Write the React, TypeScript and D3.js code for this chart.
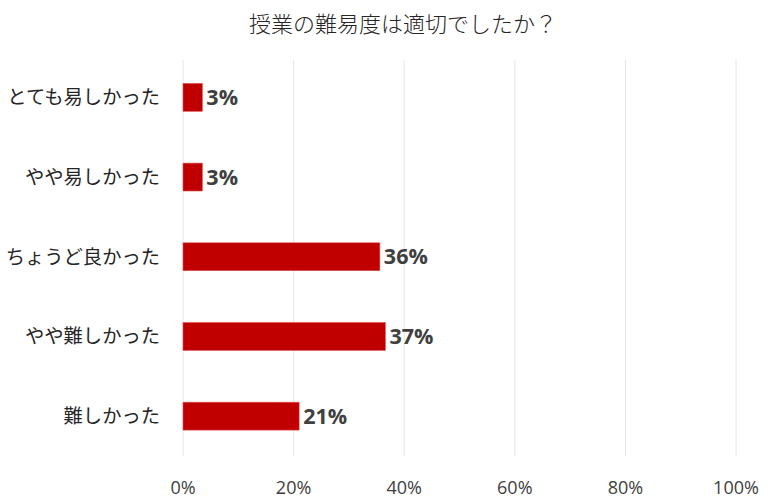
import React from "react";
import * as d3 from "d3";

const title = "授業の難易度は適切でしたか？";
const categories = ["とても易しかった", "やや易しかった", "ちょうど良かった", "やや難しかった", "難しかった"];
const values = [3.5, 3.5, 35.6, 36.6, 21.0];
const labels = ["3%", "3%", "36%", "37%", "21%"];
const ticks = [0, 20, 40, 60, 80, 100];

export default function App() {
  const W = 768, H = 501;
  const x = d3.scaleLinear().domain([0, 100]).range([183, 736]);
  const y = d3.scaleBand<string>().domain(categories).range([57.5, 456]).paddingInner(0.65).paddingOuter(0.325);
  const jp = "'Noto Sans CJK JP', sans-serif";
  const num = "'Open Sans', 'Noto Sans', sans-serif";
  return (
    <svg width={W} height={H} style={{ position: "absolute", left: 0, top: 0, background: "#fff" }}>
      <text x={403} y={32} textAnchor="middle" fontFamily={jp} fontSize={22} fontWeight={300} fill="#262626">{title}</text>
      {ticks.map((t) => (
        <g key={t}>
          <line x1={x(t)} x2={x(t)} y1={60} y2={456} stroke="#e6e6e6" strokeWidth={1} />
          <text x={x(t)} y={494} textAnchor="middle" fontFamily={num} fontSize={18} fill="#404040">{t}%</text>
        </g>
      ))}
      {categories.map((c, i) => {
        const yy = y(c)!;
        const bh = y.bandwidth();
        return (
          <g key={c}>
            <rect x={x(0)} y={yy} width={x(values[i]) - x(0)} height={bh} fill="#c00000" stroke="#e05050" strokeWidth={0.6} />
            <text x={x(values[i]) + 4} y={yy + bh / 2} dy="0.36em" fontFamily={num} fontWeight={700} fontSize={21.5} fill="#404040">{labels[i]}</text>
            <text x={160} y={yy + bh / 2} dy="0.36em" textAnchor="end" fontFamily={jp} fontSize={19.3} fill="#262626">{c}</text>
          </g>
        );
      })}
    </svg>
  );
}
